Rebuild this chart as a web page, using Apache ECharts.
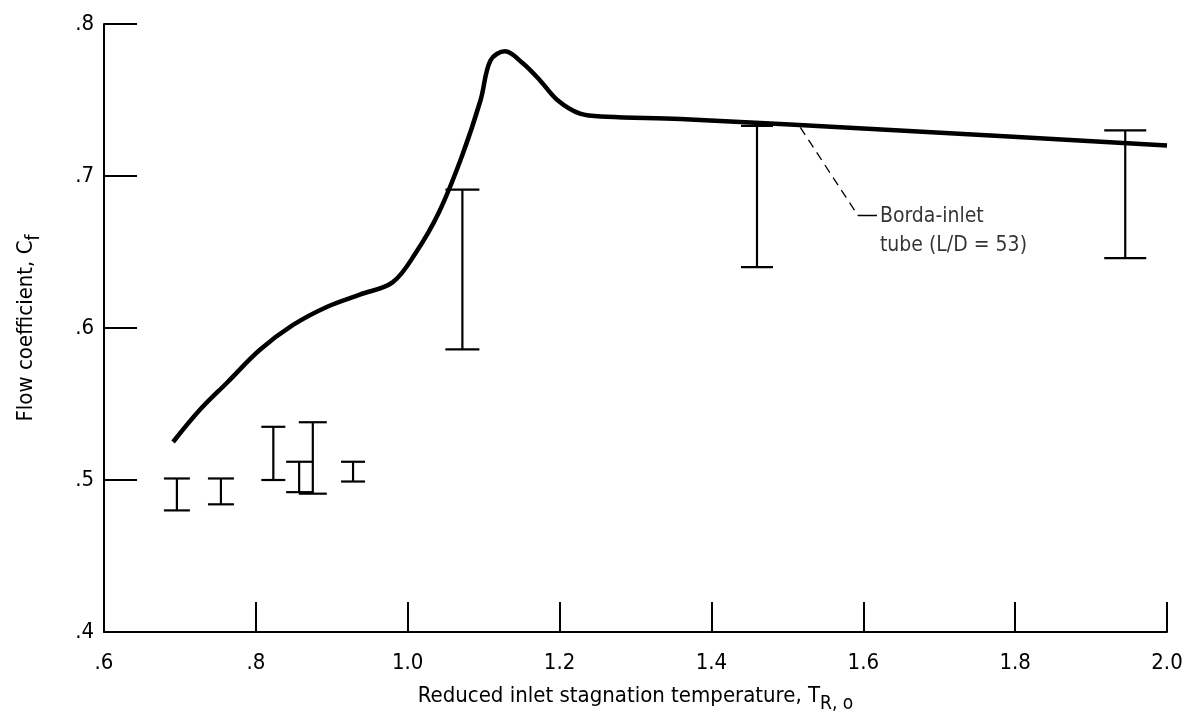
<!DOCTYPE html>
<html>
<head>
<meta charset="utf-8">
<title>Flow coefficient</title>
<script src="https://cdn.jsdelivr.net/npm/echarts@6/dist/echarts.min.js"></script>
<style>
  html, body { margin: 0; padding: 0; background: #fff; }
  #chart { width: 1193px; height: 719px; }
</style>
</head>
<body>
<div id="chart"></div>
<script>
// faired curve, Borda-inlet tube (L/D = 53)
var curveX = [0.691, 0.726, 0.762, 0.805, 0.849, 0.894, 0.937, 0.980, 1.010, 1.041, 1.071,
  1.096, 1.109, 1.128, 1.152, 1.174, 1.197, 1.227, 1.262, 1.359, 1.648, 2.0];
var curveY = [0.525, 0.546, 0.564, 0.5855, 0.602, 0.614, 0.622, 0.630, 0.649, 0.676, 0.7125,
  0.750, 0.776, 0.782, 0.774, 0.763, 0.750, 0.741, 0.739, 0.7375, 0.730, 0.720];

// data range bars
var barX = [0.696, 0.754, 0.823, 0.857, 0.875, 0.928, 1.072, 1.460, 1.945];
var barLow = [0.480, 0.484, 0.500, 0.492, 0.491, 0.499, 0.586, 0.640, 0.646];
var barHigh = [0.501, 0.501, 0.535, 0.512, 0.538, 0.512, 0.691, 0.733, 0.730];

// leader line for the label
var leaderX = [1.517, 1.593];
var leaderY = [0.732, 0.674];
var labelX = 1.618;
var labelText = ['Borda-inlet', 'tube (L/D = 53)'];

// cap half-widths in px, as drawn
var capHalf = [13, 13, 12, 13, 14, 12, 17, 16, 21];

var font = '"DejaVu Sans Condensed", "Liberation Sans Narrow", sans-serif';

function tickText(v) {
  return v.toFixed(1).replace(/^0/, '');
}

var curveData = curveX.map(function (x, i) { return [x, curveY[i]]; });
var barData = barX.map(function (x, i) { return [x, barLow[i], barHigh[i]]; });

var chart = echarts.init(document.getElementById('chart'));

var nameRich = {
  s: { fontFamily: font, fontSize: 22, color: '#000' },
  sub: { fontFamily: font, fontSize: 19, color: '#000', verticalAlign: 'bottom', padding: [16, 0, 0, 0] }
};

var option = {
  backgroundColor: '#fff',
  animation: false,
  textStyle: { fontFamily: font, color: '#000' },
  grid: { left: 104, right: 26, top: 24, bottom: 87, outerBoundsMode: 'none', containLabel: false },
  xAxis: {
    type: 'value',
    min: 0.6,
    max: 2.0,
    interval: 0.2,
    name: 'Reduced inlet stagnation temperature, {s|T}{sub|R, o}',
    nameLocation: 'middle',
    nameGap: 47,
    nameTextStyle: { fontFamily: font, fontSize: 22, color: '#000', rich: nameRich },
    axisLine: { lineStyle: { color: '#000', width: 2 } },
    axisTick: { inside: true, length: 30, lineStyle: { color: '#000', width: 2 } },
    axisLabel: {
      margin: 20, fontSize: 22, color: '#000', fontFamily: font,
      formatter: function (v) { return tickText(v); }
    },
    splitLine: { show: false }
  },
  yAxis: {
    type: 'value',
    min: 0.4,
    max: 0.8,
    interval: 0.1,
    name: 'Flow coefficient, {s|C}{sub|f}',
    nameLocation: 'middle',
    nameRotate: 90,
    nameGap: 60,
    nameTextStyle: { fontFamily: font, fontSize: 22, color: '#000', rich: nameRich },
    axisLine: { lineStyle: { color: '#000', width: 2 } },
    axisTick: { inside: true, length: 33, lineStyle: { color: '#000', width: 2 } },
    axisLabel: {
      margin: 10, fontSize: 22, color: '#000', fontFamily: font,
      formatter: function (v) { return tickText(v); }
    },
    splitLine: { show: false }
  },
  series: [
    {
      name: 'curve',
      type: 'line',
      data: curveData,
      smooth: 0.35,
      showSymbol: false,
      lineStyle: { color: '#000', width: 4.5 },
      z: 3
    },
    {
      name: 'range',
      type: 'custom',
      data: barData,
      encode: { x: 0, y: [1, 2] },
      renderItem: function (params, api) {
        var lo = api.coord([api.value(0), api.value(1)]);
        var hi = api.coord([api.value(0), api.value(2)]);
        var h = capHalf[params.dataIndex];
        var st = { stroke: '#000', lineWidth: 2.2 };
        return {
          type: 'group',
          children: [
            { type: 'line', shape: { x1: lo[0], y1: lo[1], x2: hi[0], y2: hi[1] }, style: st },
            { type: 'line', shape: { x1: lo[0] - h, y1: lo[1], x2: lo[0] + h, y2: lo[1] }, style: st },
            { type: 'line', shape: { x1: hi[0] - h, y1: hi[1], x2: hi[0] + h, y2: hi[1] }, style: st }
          ]
        };
      },
      z: 2
    },
    {
      name: 'leader',
      type: 'line',
      data: leaderX.map(function (x, i) { return [x, leaderY[i]]; }),
      showSymbol: false,
      lineStyle: { color: '#000', width: 1.3, type: [9, 6] },
      z: 1
    },
    {
      name: 'leaderEnd',
      type: 'line',
      data: [[leaderX[1], leaderY[1]], [labelX, leaderY[1]]],
      showSymbol: false,
      lineStyle: { color: '#000', width: 1.3 },
      z: 1
    },
    {
      name: 'label',
      type: 'scatter',
      data: [[labelX, leaderY[1]]],
      symbolSize: 0,
      label: {
        show: true,
        position: 'right',
        distance: 3,
        align: 'left',
        verticalAlign: 'top',
        offset: [0, -13],
        lineHeight: 29,
        fontSize: 21,
        fontFamily: font,
        color: '#000',
        formatter: labelText.join('\n')
      }
    }
  ]
};

chart.setOption(option);
</script>
</body>
</html>
